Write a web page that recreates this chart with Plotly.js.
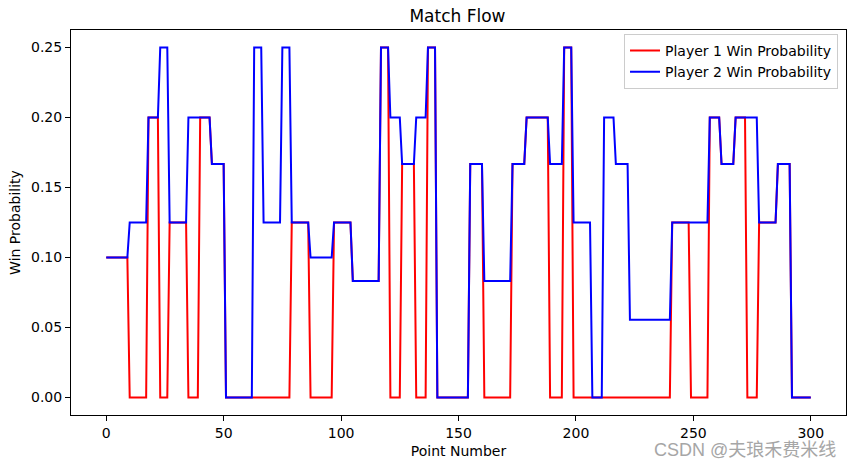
<!DOCTYPE html>
<html>
<head>
<meta charset="utf-8">
<script src="https://cdn.plot.ly/plotly-3.0.1.min.js"></script>
<style>html,body{margin:0;padding:0;background:#fff;}#chart{width:855px;height:468px;}</style>
</head>
<body>
<div id="chart"></div>
<script>
// Player 2 (blue): constant runs [from, to] with value
const p2_from  = [0, 10, 18, 23, 27, 35, 45, 51, 63, 67, 75, 79, 87, 97, 105, 117, 121, 126, 132, 137, 141, 155, 161, 173, 179, 189, 195, 199, 207, 212, 217, 223, 241, 257, 262, 268, 278, 286, 292];
const p2_to    = [9, 17, 22, 26, 34, 44, 50, 62, 66, 74, 78, 86, 96, 104, 116, 120, 125, 131, 136, 140, 154, 160, 172, 178, 188, 194, 198, 206, 211, 216, 222, 240, 256, 261, 267, 277, 285, 291, 300];
const p2_value = [0.1, 0.125, 0.2, 0.25, 0.125, 0.2, 0.1667, 0, 0.25, 0.125, 0.25, 0.125, 0.1, 0.125, 0.0833, 0.25, 0.2, 0.1667, 0.2, 0.25, 0, 0.1667, 0.0833, 0.1667, 0.2, 0.1667, 0.25, 0.125, 0, 0.2, 0.1667, 0.0556, 0.125, 0.2, 0.1667, 0.2, 0.125, 0.1667, 0];

// Player 1 (red): constant runs [from, to] with value
const p1_from  = [0, 10, 18, 23, 27, 35, 40, 45, 51, 79, 87, 97, 105, 117, 121, 126, 132, 137, 141, 155, 161, 173, 179, 189, 195, 199, 241, 249, 257, 262, 268, 273, 278, 286, 292];
const p1_to    = [9, 17, 22, 26, 34, 39, 44, 50, 78, 86, 96, 104, 116, 120, 125, 131, 136, 140, 154, 160, 172, 178, 188, 194, 198, 240, 248, 256, 261, 267, 272, 277, 285, 291, 300];
const p1_value = [0.1, 0, 0.2, 0, 0.125, 0, 0.2, 0.1667, 0, 0.125, 0, 0.125, 0.0833, 0.25, 0, 0.1667, 0, 0.25, 0, 0.1667, 0, 0.1667, 0.2, 0, 0.25, 0, 0.125, 0, 0.2, 0.1667, 0.2, 0, 0.125, 0.1667, 0];

const xTicks = [0, 50, 100, 150, 200, 250, 300];
const yTicks = [0, 0.05, 0.10, 0.15, 0.20, 0.25];

function runsToXY(from, to, vals) {
  const x = [], y = [];
  for (let i = 0; i < from.length; i++) {
    x.push(from[i]); y.push(vals[i]);
    if (to[i] !== from[i]) { x.push(to[i]); y.push(vals[i]); }
  }
  return {x, y};
}

const r1 = runsToXY(p1_from, p1_to, p1_value);
const r2 = runsToXY(p2_from, p2_to, p2_value);

const FONT = "DejaVu Sans, sans-serif";

const traces = [
  {x: r1.x, y: r1.y, type: 'scatter', mode: 'lines', name: 'Player 1 Win Probability',
   line: {color: '#ff0000', width: 2}},
  {x: r2.x, y: r2.y, type: 'scatter', mode: 'lines', name: 'Player 2 Win Probability',
   line: {color: '#0000ff', width: 2}}
];

const axisCommon = {
  showgrid: false, zeroline: false, showline: true, mirror: true,
  linecolor: '#000', linewidth: 1, ticks: 'outside', ticklen: 5, tickwidth: 1, tickcolor: '#000',
  tickfont: {family: FONT, size: 14, color: '#000'}, automargin: false
};

const layout = {
  width: 855, height: 468,
  margin: {l: 71, r: 9, t: 30, b: 53},
  paper_bgcolor: '#fff', plot_bgcolor: '#fff',
  font: {family: FONT, color: '#000'},
  title: {text: 'Match Flow', font: {family: FONT, size: 17, color: '#000'},
          x: 0.535, xanchor: 'center', xref: 'container', y: 0.965, yanchor: 'middle', yref: 'container'},
  xaxis: Object.assign({}, axisCommon, {
    range: [-15, 315], tickvals: xTicks, ticktext: xTicks.map(String),
    title: {text: 'Point Number', font: {family: FONT, size: 14, color: '#000'}, standoff: 6}
  }),
  yaxis: Object.assign({}, axisCommon, {
    range: [-0.0125, 0.2625], tickvals: yTicks, ticktext: yTicks.map(v => v.toFixed(2)),
    title: {text: 'Win Probability', font: {family: FONT, size: 14, color: '#000'}, standoff: 7}
  }),
  showlegend: true,
  legend: {x: 0.9897, xanchor: 'right', y: 0.99, yanchor: 'top',
           bgcolor: 'rgba(255,255,255,0.8)', bordercolor: '#cccccc', borderwidth: 1,
           font: {family: FONT, size: 14, color: '#000'}},
  annotations: [{
    text: 'CSDN @夫琅禾费米线', xref: 'paper', yref: 'paper',
    x: 0.9897, y: -0.092, xanchor: 'right', yanchor: 'middle', showarrow: false,
    font: {family: "Liberation Sans, Noto Sans CJK SC, sans-serif", size: 18, color: '#a6a6a6'}
  }]
};

Plotly.newPlot('chart', traces, layout, {displayModeBar: false, staticPlot: true});
</script>
</body>
</html>
